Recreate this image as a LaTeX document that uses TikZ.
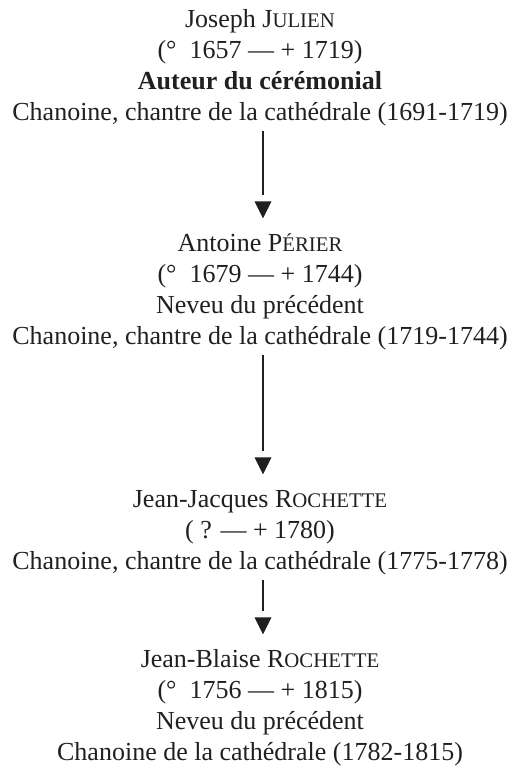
\documentclass[tikz,border=0pt]{standalone}
\usepackage{fontspec}
\setmainfont{Liberation Serif}
\usetikzlibrary{positioning}

\definecolor{encre}{RGB}{35,31,32}

% nom de famille en petites capitales
\newcommand{\nomfam}[2]{#1{\fontsize{20.8}{31}\selectfont #2}}

\begin{document}
\begin{tikzpicture}[x=1pt,y=1pt,
    bloc/.style={align=center, inner sep=0pt, anchor=north, text=encre,
        font=\fontsize{26}{31}\selectfont},
    trait/.style={draw=encre, line width=1.5pt, shorten <=1.5pt},
    pointe/.style={fill=encre}]
        % Page frame
        \useasboundingbox (0,0) rectangle (521,-767);
        \pgfmathsetmacro{\axe}{260}
        \pgfmathsetmacro{\decal}{3}

        % Les chanoines
        \node[bloc] (julien) at (\axe,-5.3) {\strut Joseph \nomfam{J}{ULIEN}\\
            (°~ 1657 — + 1719)\\
            \textbf{Auteur du cérémonial}\\
            Chanoine, chantre de la cathédrale (1691-1719)\strut};
        \node[bloc] (perier) at (\axe,-229.3) {\strut Antoine \nomfam{P}{ÉRIER}\\
            (°~ 1679 — + 1744)\\
            Neveu du précédent\\
            Chanoine, chantre de la cathédrale (1719-1744)\strut};
        \node[bloc] (jjrochette) at (\axe,-485.3) {\strut Jean-Jacques \nomfam{R}{OCHETTE}\\
            ( ? — + 1780)\\
            Chanoine, chantre de la cathédrale (1775-1778)\strut};
        \node[bloc] (jbrochette) at (\axe,-645.3) {\strut Jean-Blaise \nomfam{R}{OCHETTE}\\
            (°~ 1756 — + 1815)\\
            Neveu du précédent\\
            Chanoine de la cathédrale (1782-1815)\strut};

        % Succession: trait, blanc, puis pointe
        \foreach \haut/\bas in {julien/perier, perier/jjrochette, jjrochette/jbrochette}{
            \draw[trait] ([xshift=\decal]\haut.south) -- ([xshift=\decal,yshift=34]\bas.north);
            \fill[pointe] ([xshift=\decal,yshift=11]\bas.north) -- ++(-8.5,17) -- ++(17,0) -- cycle;
        }
\end{tikzpicture}
\end{document}
